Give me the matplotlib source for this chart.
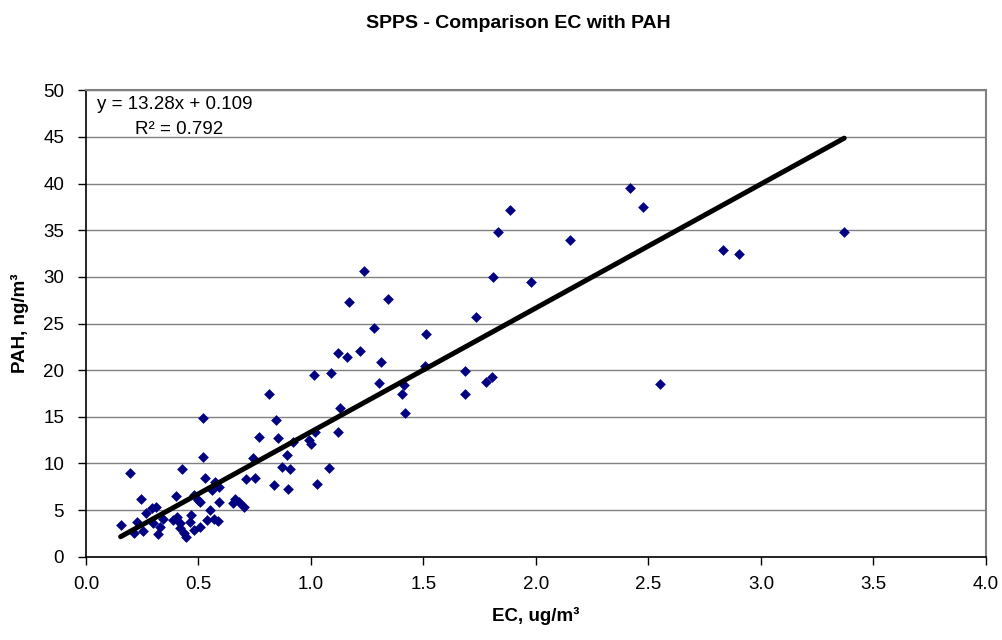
"""
SPPS - comparison of EC with PAH: scatter plus linear trend line.
Output: out.png
"""

import numpy as np
import matplotlib
matplotlib.use("Agg")
import matplotlib.pyplot as plt

plt.rcParams["font.family"] = ["Liberation Sans", "DejaVu Sans"]

# EC (ug/m3) vs PAH (ng/m3)
ec = [0.154, 0.197, 0.245, 0.212, 0.225, 0.255, 0.265, 0.295, 0.313, 0.300,
      0.319, 0.343, 0.328, 0.402, 0.427, 0.388, 0.406, 0.416, 0.420, 0.435,
      0.445, 0.468, 0.464, 0.479, 0.506, 0.481, 0.497, 0.521, 0.521, 0.527,
      0.509, 0.553, 0.539, 0.572, 0.593, 0.559, 0.593, 0.587, 0.568, 0.664,
      0.679, 0.655, 0.701, 0.712, 0.750, 0.743, 0.768, 0.834, 0.815, 0.843,
      0.855, 0.870, 0.907, 0.894, 0.900, 0.922, 0.990, 1.000, 1.020, 1.027,
      1.082, 1.012, 1.087, 1.120, 1.127, 1.122, 1.158, 1.169, 1.217, 1.235,
      1.278, 1.304, 1.313, 1.343, 1.406, 1.415, 1.417, 1.506, 1.512, 1.683,
      1.683, 1.734, 1.778, 1.805, 1.810, 1.830, 1.883, 1.977, 2.152, 2.420,
      2.475, 2.552, 2.832, 2.904, 3.370]
pah = [3.45, 9.0, 6.2, 2.6, 3.7, 2.8, 4.65, 5.2, 5.35, 3.6,
       2.45, 4.1, 3.2, 6.5, 9.37, 3.95, 4.3, 3.6, 3.05, 2.5,
       2.15, 4.45, 3.75, 2.85, 3.2, 6.6, 6.1, 14.9, 10.7, 8.4,
       5.9, 5.0, 3.95, 8.0, 7.45, 7.15, 5.9, 3.8, 4.1, 6.15,
       5.9, 5.75, 5.35, 8.3, 8.45, 10.6, 12.85, 7.7, 17.5, 14.65,
       12.7, 9.6, 9.4, 10.9, 7.3, 12.3, 12.5, 12.05, 13.4, 7.8,
       9.5, 19.5, 19.7, 13.4, 16.0, 21.8, 21.4, 27.3, 22.1, 30.6,
       24.5, 18.6, 20.9, 27.65, 17.5, 18.4, 15.4, 20.4, 23.9, 19.9,
       17.5, 25.7, 18.7, 19.3, 30.0, 34.8, 37.2, 29.4, 33.9, 39.5,
       37.45, 18.5, 32.9, 32.5, 34.8]

slope = 13.28
intercept = 0.109
r2 = 0.792

x_ticks = np.arange(0, 4.01, 0.5)
y_ticks = np.arange(0, 51, 5)

fig = plt.figure(figsize=(10.02, 6.40), dpi=100)
ax = fig.add_axes([0.0858, 0.130, 0.8982, 0.729])

ax.scatter(ec, pah, marker="D", s=30, color="#000080", linewidths=0, zorder=3)

# trend line over the data range
xl = np.array([min(ec), max(ec)])
ax.plot(xl, slope * xl + intercept, color="black", linewidth=3.6,
        solid_capstyle="round", zorder=4)

ax.set_xlim(0, 4.0)
ax.set_ylim(0, 50)
ax.set_xticks(x_ticks)
ax.set_xticklabels([f"{v:.1f}" for v in x_ticks], fontsize=13.5)
ax.set_yticks(y_ticks)
ax.set_yticklabels([f"{v:d}" for v in y_ticks], fontsize=13.5)
ax.tick_params(direction="out", length=5.8, width=1, color="black")
ax.tick_params(axis="y", pad=10)
ax.tick_params(axis="x", pad=8)

ax.grid(axis="y", color="#808080", linewidth=1)
ax.set_axisbelow(True)
for side in ["left", "bottom"]:
    ax.spines[side].set_color("black")
    ax.spines[side].set_linewidth(1.2)
for side in ["top", "right"]:
    ax.spines[side].set_color("#808080")
    ax.spines[side].set_linewidth(1.5)

ax.set_xlabel("EC, ug/m³", fontsize=13.5, fontweight="bold", labelpad=10)
ax.set_ylabel("PAH, ng/m³", fontsize=13.5, fontweight="bold", labelpad=10)

fig.text(0.517, 0.9625, "SPPS - Comparison EC with PAH", ha="center", va="center",
         fontsize=14, fontweight="bold")

ax.text(0.012, 0.988, f"y = {slope:.2f}x + {intercept:.3f}", transform=ax.transAxes,
        ha="left", va="top", fontsize=13.5)
ax.text(0.055, 0.935, f"R² = {r2:.3f}", transform=ax.transAxes,
        ha="left", va="top", fontsize=13.5)

plt.savefig("out.png", dpi=100)
